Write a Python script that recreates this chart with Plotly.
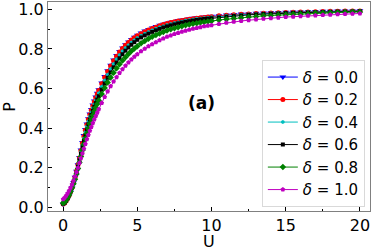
import plotly.graph_objects as go

U = [0.0, 0.1, 0.2, 0.3, 0.4, 0.5, 0.6, 0.7, 0.8, 0.9, 1.0, 1.1, 1.2, 1.3, 1.4, 1.5, 1.6, 1.7, 1.8, 1.9,
     2.0, 2.1, 2.2, 2.3, 2.4,
     2.6, 2.8, 3.0, 3.2, 3.4, 3.6, 3.8, 4.0, 4.2, 4.4, 4.6, 4.8, 5.0,
     5.25, 5.5, 5.75, 6.0, 6.25, 6.5, 6.75, 7.0, 7.25, 7.5, 7.75, 8.0, 8.25, 8.5, 8.75, 9.0, 9.25, 9.5, 9.75, 10.0,
     10.5, 11.0, 11.5, 12.0, 12.5, 13.0, 13.5, 14.0, 14.5, 15.0, 15.5, 16.0, 16.5, 17.0, 17.5, 18.0, 18.5, 19.0, 19.5, 20.0]

P_d00 = [.015, .020, .030, .043, .058, .077, .099, .124, .152, .182, .215, .251, .289, .327, .362, .393, .421, .447, .471, .494,
         .516, .537, .557, .576, .594,
         .628, .660, .690, .718, .744, .767, .787, .805, .821, .835, .848, .859, .869,
         .880, .890, .898, .906, .913, .919, .925, .930, .935, .939, .943, .946, .949, .952, .955, .957, .959, .961, .963, .965,
         .968, .971, .974, .976, .978, .980, .981, .983, .984, .985, .986, .987, .988, .989, .990, .990, .991, .992, .992, .993]

P_d02 = [.016, .021, .031, .044, .059, .078, .100, .125, .152, .182, .214, .249, .286, .323, .358, .389, .417, .443, .467, .490,
         .512, .533, .553, .572, .590,
         .624, .656, .686, .714, .740, .763, .784, .802, .818, .832, .845, .856, .866,
         .877, .887, .895, .903, .910, .917, .923, .928, .933, .937, .941, .944, .947, .950, .953, .955, .957, .959, .961, .963,
         .967, .970, .973, .975, .977, .979, .980, .982, .983, .984, .985, .986, .987, .988, .989, .990, .990, .991, .991, .992]

P_d04 = [.017, .022, .032, .045, .060, .079, .100, .124, .150, .179, .210, .244, .279, .315, .349, .380, .408, .434, .458, .480,
         .501, .521, .540, .558, .576,
         .609, .640, .670, .698, .724, .748, .769, .788, .804, .819, .832, .844, .855,
         .866, .877, .886, .894, .902, .909, .915, .921, .926, .931, .935, .939, .943, .946, .949, .952, .954, .956, .958, .960,
         .964, .967, .970, .973, .975, .977, .979, .980, .982, .983, .984, .985, .986, .987, .988, .989, .989, .990, .990, .991]

P_d06 = [.018, .023, .033, .046, .061, .079, .099, .122, .147, .175, .205, .237, .270, .303, .335, .365, .393, .419, .443, .466,
         .487, .507, .526, .544, .561,
         .594, .625, .654, .681, .707, .731, .753, .773, .791, .807, .821, .834, .846,
         .858, .868, .877, .886, .894, .901, .908, .914, .919, .924, .929, .933, .937, .940, .943, .946, .949, .951, .953, .955,
         .959, .963, .966, .969, .972, .974, .976, .978, .979, .981, .982, .983, .984, .985, .986, .987, .988, .988, .989, .990]

P_d08 = [.022, .027, .036, .048, .062, .079, .098, .119, .142, .168, .196, .226, .257, .288, .318, .346, .373, .398, .422, .444,
         .465, .485, .504, .522, .539,
         .572, .602, .630, .656, .680, .702, .722, .741, .758, .774, .789, .802, .814,
         .828, .840, .851, .861, .870, .878, .886, .893, .899, .905, .910, .915, .919, .923, .927, .930, .933, .936, .939, .941,
         .946, .950, .954, .958, .961, .964, .967, .969, .971, .973, .975, .977, .978, .980, .981, .983, .984, .985, .986, .987]

P_d10 = [.040, .048, .058, .070, .083, .098, .115, .134, .155, .177, .200, .224, .248, .272, .296, .320, .343, .365, .386, .406,
         .425, .443, .461, .478, .495,
         .527, .557, .585, .611, .635, .657, .678, .697, .715, .731, .746, .760, .773,
         .788, .801, .813, .824, .834, .844, .853, .861, .868, .875, .881, .887, .892, .897, .902, .906, .910, .914, .917, .920,
         .926, .932, .937, .941, .945, .949, .952, .955, .958, .961, .963, .965, .967, .969, .971, .973, .975, .976, .978, .979]

labels = ["<i>δ</i> = 0.0", "<i>δ</i> = 0.2", "<i>δ</i> = 0.4", "<i>δ</i> = 0.6", "<i>δ</i> = 0.8", "<i>δ</i> = 1.0"]
series = [P_d00, P_d02, P_d04, P_d06, P_d08, P_d10]
colors = ["#0000ff", "#ff0000", "#00bfbf", "#000000", "#008000", "#bf00bf"]
symbols = ["triangle-down", "circle", "hexagon", "square", "diamond", "pentagon"]
sizes = [6, 5, 4, 4, 5, 5]

fig = go.Figure()
for lab, ys, col, sym, sz in zip(labels, series, colors, symbols, sizes):
    fig.add_trace(go.Scatter(
        x=U, y=ys, mode="lines+markers", name=lab,
        line=dict(color=col, width=1),
        marker=dict(symbol=sym, size=sz, color=col, line=dict(width=0)),
    ))

fig.add_annotation(x=0.478, y=0.517, xref="paper", yref="paper", text="<b>(a)</b>",
                   showarrow=False, font=dict(size=17, color="black"))
fig.add_annotation(x=0.50, y=-0.145, xref="paper", yref="paper", text="U", yanchor="middle",
                   showarrow=False, borderpad=0, font=dict(size=16, color="black", family="DejaVu Sans"))
fig.add_annotation(x=-0.12, y=0.50, xref="paper", yref="paper", text="P", textangle=-90,
                   xanchor="center", showarrow=False, font=dict(size=16, color="black", family="DejaVu Sans"))

axis_common = dict(showline=True, linecolor="#808080", linewidth=1, mirror=True,
                   ticks="inside", ticklen=4, tickcolor="black", tickwidth=1,
                   showgrid=False, zeroline=False, automargin=False, ticklabeloverflow="allow",
                   tickfont=dict(size=16, color="black", family="DejaVu Sans"))

fig.update_xaxes(range=[-1.02, 20.68], tickvals=[0, 5, 10, 15, 20],
                 minor=dict(ticks="inside", ticklen=2, tickvals=[2.5, 7.5, 12.5, 17.5], tickcolor="black"),
                 **axis_common)
fig.update_yaxes(range=[-0.019, 1.037], tickvals=[0, 0.2, 0.4, 0.6, 0.8, 1.0],
                 ticktext=["0.0", "0.2", "0.4", "0.6", "0.8", "1.0"],
                 minor=dict(ticks="inside", ticklen=2, tickvals=[0.1, 0.3, 0.5, 0.7, 0.9], tickcolor="black"),
                 **axis_common)

fig.update_layout(
    width=374, height=250,
    margin=dict(l=48, r=4, t=2, b=39),
    paper_bgcolor="white", plot_bgcolor="white",
    font=dict(family="DejaVu Sans", color="black"),
    legend=dict(x=0.984, y=0.02, xanchor="right", yanchor="bottom",
                bgcolor="white", bordercolor="#d9d9d9", borderwidth=1,
                font=dict(size=15, color="black", family="DejaVu Sans"),
                tracegroupgap=0, itemwidth=30),
    showlegend=True,
)

fig.write_html("out.html", config={"displayModeBar": False},
               post_script="document.body.style.margin='0';")
